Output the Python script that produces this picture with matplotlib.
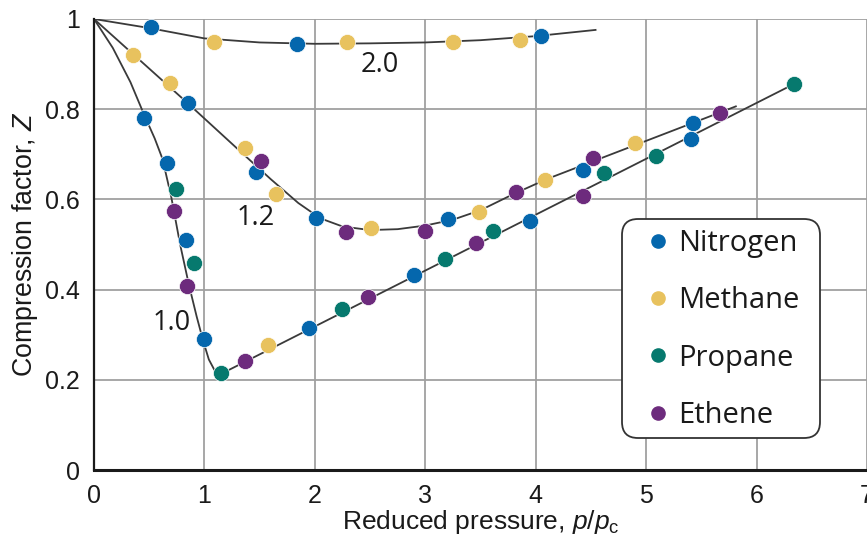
import matplotlib
matplotlib.use("Agg")
import matplotlib.pyplot as plt
from matplotlib.patches import FancyBboxPatch
from matplotlib.transforms import IdentityTransform
from matplotlib.lines import Line2D

# ---- data ----
nitrogen_x = [0.52, 1.84, 4.05, 0.85, 1.47, 2.01, 3.21, 4.43, 5.42, 0.45, 0.66, 0.83, 1.00, 1.95, 2.90, 3.95, 5.41]
nitrogen_z = [0.982, 0.945, 0.962, 0.813, 0.660, 0.559, 0.556, 0.665, 0.769, 0.780, 0.681, 0.510, 0.290, 0.314, 0.432, 0.553, 0.734]

methane_x = [1.09, 2.29, 3.25, 3.86, 0.35, 0.69, 1.37, 1.65, 2.51, 3.49, 4.08, 4.90, 1.58]
methane_z = [0.950, 0.950, 0.950, 0.954, 0.920, 0.858, 0.714, 0.613, 0.536, 0.572, 0.643, 0.725, 0.278]

propane_x = [0.74, 0.91, 1.15, 2.25, 3.18, 3.61, 4.62, 5.09, 6.34]
propane_z = [0.623, 0.459, 0.215, 0.356, 0.468, 0.529, 0.659, 0.696, 0.856]

ethene_x = [1.51, 2.28, 3.00, 3.82, 4.52, 5.67, 0.72, 0.84, 1.37, 2.48, 3.46, 4.43]
ethene_z = [0.685, 0.527, 0.530, 0.616, 0.692, 0.792, 0.575, 0.409, 0.241, 0.384, 0.503, 0.608]

# reduced-temperature curves
curve_20_x = [0, 0.25, 0.5, 1.0, 1.5, 2.0, 2.5, 3.0, 3.5, 4.0, 4.55]
curve_20_z = [1.0, 0.990, 0.980, 0.957, 0.948, 0.945, 0.946, 0.948, 0.953, 0.962, 0.976]

curve_12_x = [0, 0.4, 0.85, 1.3, 1.6, 1.85, 2.05, 2.25, 2.5, 2.75, 3.0, 3.25, 3.5, 3.8, 4.1, 5.82]
curve_12_z = [1.0, 0.912, 0.813, 0.712, 0.645, 0.592, 0.558, 0.540, 0.532, 0.534, 0.542, 0.555, 0.576, 0.612, 0.645, 0.807]

curve_10_x = [0, 0.17, 0.33, 0.45, 0.55, 0.62, 0.70, 0.78, 0.86, 0.93, 0.99, 1.04, 1.09, 1.15, 6.34]
curve_10_z = [1.0, 0.936, 0.860, 0.790, 0.735, 0.690, 0.605, 0.500, 0.410, 0.340, 0.285, 0.245, 0.222, 0.213, 0.856]

curve_labels = ["2.0", "1.2", "1.0"]
curve_label_x = [2.59, 1.46, 0.705]
curve_label_z = [0.898, 0.559, 0.326]

series_names = ["Nitrogen", "Methane", "Propane", "Ethene"]
series_colors = ["#0567AD", "#E8C25E", "#06796E", "#6D2B7D"]

x_ticks = [0, 1, 2, 3, 4, 5, 6, 7]
y_ticks = [0, 0.2, 0.4, 0.6, 0.8, 1.0]
y_tick_labels = ["0", "0.2", "0.4", "0.6", "0.8", "1"]

# ---- figure ----
plt.rcParams['font.family'] = ['Liberation Sans', 'DejaVu Sans']
plt.rcParams['mathtext.fontset'] = 'custom'
plt.rcParams['mathtext.rm'] = 'Liberation Sans'
plt.rcParams['mathtext.it'] = 'Liberation Sans:italic'

W, H = 867, 537
fig = plt.figure(figsize=(W / 100, H / 100), dpi=100)
ax = fig.add_axes([94 / W, 67 / H, 773 / W, 451 / H])
ax.set_xlim(0, 7)
ax.set_ylim(0, 1)

ax.grid(True, color="#A0A0A0", linewidth=1.3, zorder=0)
ax.set_axisbelow(True)
ax.set_xticks(x_ticks)
ax.set_yticks(y_ticks)
ax.set_yticklabels(y_tick_labels)
ax.tick_params(length=0, labelsize=18, colors="#1a1a1a")
ax.tick_params(axis='y', pad=10)
ax.tick_params(axis='x', pad=10)

for s in ["top", "right"]:
    ax.spines[s].set_visible(False)
ax.spines["left"].set_linewidth(1.6)
ax.spines["bottom"].set_linewidth(2.2)
ax.spines["left"].set_color("#1a1a1a")
ax.spines["bottom"].set_color("#1a1a1a")

line_kw = dict(color="#3a3a3a", linewidth=1.3, zorder=2, solid_capstyle='butt')
ax.plot(curve_20_x, curve_20_z, **line_kw)
ax.plot(curve_12_x, curve_12_z, **line_kw)
ax.plot(curve_10_x, curve_10_z, **line_kw)

all_x = [nitrogen_x, methane_x, propane_x, ethene_x]
all_z = [nitrogen_z, methane_z, propane_z, ethene_z]
for xs, zs, c in zip(all_x, all_z, series_colors):
    ax.scatter(xs, zs, s=135, color=c, edgecolors="white", linewidths=0.5, zorder=3, clip_on=False)

for t, lx, lz in zip(curve_labels, curve_label_x, curve_label_z):
    ax.text(lx, lz, t, fontsize=19.5, family=['Open Sans', 'DejaVu Sans'], color="#1a1a1a",
            ha="center", va="center", zorder=4)

ax.set_xlabel(r"Reduced pressure, $p/p_\mathrm{c}$", fontsize=19, color="#1a1a1a", labelpad=0)
ax.set_ylabel(r"Compression factor, $Z$", fontsize=19.3, color="#1a1a1a", labelpad=4)

# legend box
box = FancyBboxPatch((622, H - 438), 198, 219, boxstyle="round,pad=0,rounding_size=16",
                     transform=IdentityTransform(), facecolor="white", edgecolor="#333333",
                     linewidth=1.3, zorder=5)
fig.patches.append(box)
handles = [Line2D([], [], linestyle="none", marker="o", markersize=9.5, color=c) for c in series_colors]
leg = fig.legend(handles, series_names, loc="upper left", bbox_to_anchor=(645 / W, 1 - 229 / H),
                 frameon=False, borderpad=0, borderaxespad=0, handlelength=0.89, handletextpad=0.24,
                 labelspacing=0.97, prop={'family': ['Open Sans', 'DejaVu Sans'], 'size': 21})
leg.set_zorder(6)
for t in leg.get_texts():
    t.set_color("#1a1a1a")

fig.savefig("out.png", dpi=100)
